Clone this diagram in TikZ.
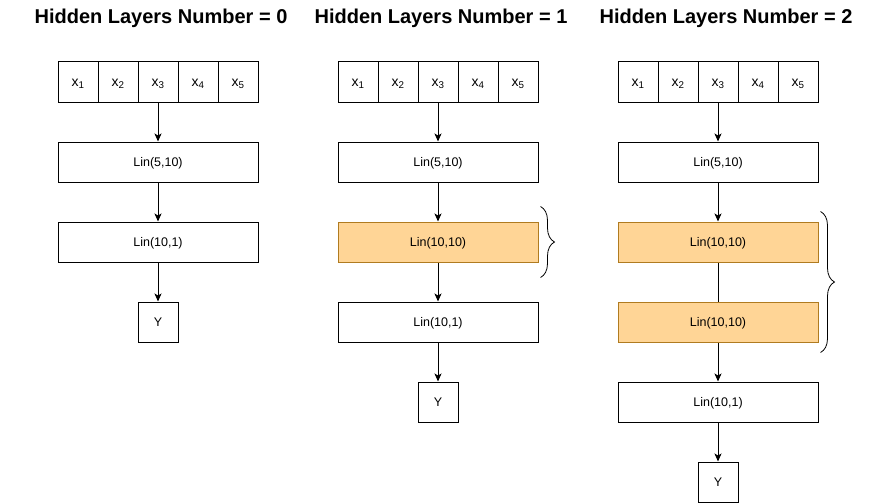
\documentclass[tikz,border=0pt]{standalone}
\usepackage{fontspec}
\setmainfont{Liberation Sans}
\usetikzlibrary{arrows.meta,decorations.pathreplacing}
\tikzset{>={Stealth[width=7pt,length=8pt,inset=2pt]}}
\definecolor{hidfill}{RGB}{255,213,150}
\definecolor{hidline}{RGB}{176,123,32}

\begin{document}
\begin{tikzpicture}[x=1pt,y=-1pt,line width=1pt,
    title/.style={anchor=base,font=\bfseries\fontsize{20}{20}\selectfont},
    cell/.style={draw,minimum width=40pt,minimum height=40pt,inner sep=0pt,text height=8pt,text depth=0pt,font=\fontsize{14}{14}\selectfont},
    layer/.style={draw,minimum width=200pt,minimum height=40pt,inner sep=0pt,text height=9pt,text depth=0pt,font=\fontsize{12.5}{12.5}\selectfont},
    hidden/.style={layer,fill=hidfill,draw=hidline},
    outbox/.style={cell,text height=9pt,font=\fontsize{12.5}{12.5}\selectfont},
    bracket/.style={decorate,decoration={brace,amplitude=14pt}}]

  \useasboundingbox (0,0) rectangle (884,503);

  \newcommand\A{158}
  \newcommand\B{438}
  \newcommand\C{718}

  % column 1 : no hidden layer
  \node[title] (t0) at (\A+3,24) {Hidden Layers Number = 0};
  \node[cell] (ax1) at (\A-80,82) {x\textsubscript{1}};
  \node[cell] (ax2) at (\A-40,82) {x\textsubscript{2}};
  \node[cell] (ax3) at (\A,82)    {x\textsubscript{3}};
  \node[cell] (ax4) at (\A+40,82) {x\textsubscript{4}};
  \node[cell] (ax5) at (\A+80,82) {x\textsubscript{5}};
  \node[layer] (ain) at (\A,162) {Lin(5,10)};
  \node[layer] (aout) at (\A,242) {Lin(10,1)};
  \node[outbox] (ay) at (\A,322) {Y};
  \draw[->] (ax3) -- (ain);
  \draw[->] (ain) -- (aout);
  \draw[->] (aout) -- (ay);

  % column 2 : one hidden layer
  \node[title] (t1) at (\B+3,24) {Hidden Layers Number = 1};
  \node[cell] (bx1) at (\B-80,82) {x\textsubscript{1}};
  \node[cell] (bx2) at (\B-40,82) {x\textsubscript{2}};
  \node[cell] (bx3) at (\B,82)    {x\textsubscript{3}};
  \node[cell] (bx4) at (\B+40,82) {x\textsubscript{4}};
  \node[cell] (bx5) at (\B+80,82) {x\textsubscript{5}};
  \node[layer] (bin) at (\B,162) {Lin(5,10)};
  \node[hidden] (bh1) at (\B,242) {Lin(10,10)};
  \node[layer] (bout) at (\B,322) {Lin(10,1)};
  \node[outbox] (by) at (\B,402) {Y};
  \draw[->] (bx3) -- (bin);
  \draw[->] (bin) -- (bh1);
  \draw[->] (bh1) -- (bout);
  \draw[->] (bout) -- (by);
  \draw[bracket,line width=0.8pt] ([xshift=2pt,yshift=15pt]bh1.north east) -- ([xshift=2pt,yshift=-15pt]bh1.south east);

  % column 3 : two hidden layers
  \node[title] (t2) at (\C+8,24) {Hidden Layers Number = 2};
  \node[cell] (cx1) at (\C-80,82) {x\textsubscript{1}};
  \node[cell] (cx2) at (\C-40,82) {x\textsubscript{2}};
  \node[cell] (cx3) at (\C,82)    {x\textsubscript{3}};
  \node[cell] (cx4) at (\C+40,82) {x\textsubscript{4}};
  \node[cell] (cx5) at (\C+80,82) {x\textsubscript{5}};
  \node[layer] (cin) at (\C,162) {Lin(5,10)};
  \node[hidden] (ch1) at (\C,242) {Lin(10,10)};
  \node[hidden] (ch2) at (\C,322) {Lin(10,10)};
  \node[layer] (cout) at (\C,402) {Lin(10,1)};
  \node[outbox] (cy) at (\C,482) {Y};
  \draw[->] (cx3) -- (cin);
  \draw[->] (cin) -- (ch1);
  \draw (ch1) -- (ch2);
  \draw[->] (ch2) -- (cout);
  \draw[->] (cout) -- (cy);
  \draw[bracket,line width=0.8pt] ([xshift=2pt,yshift=10pt]ch1.north east) -- ([xshift=2pt,yshift=-10pt]ch2.south east);
\end{tikzpicture}
\end{document}
